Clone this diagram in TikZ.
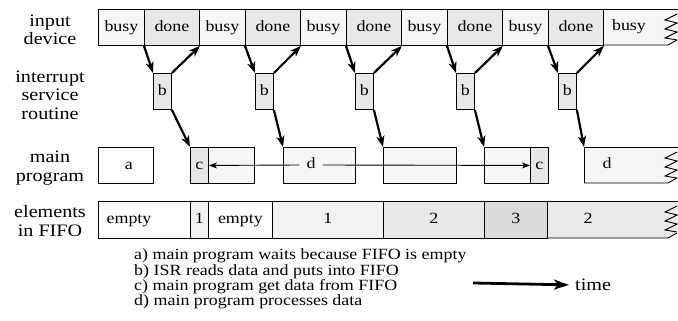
\documentclass[tikz,border=0pt]{standalone}
\usepackage{fontspec}
\setmainfont{Liberation Serif}[FakeStretch=1.15]
\usetikzlibrary{arrows.meta}
\definecolor{busyc}{RGB}{246,246,246}
\definecolor{donec}{RGB}{232,232,232}
\definecolor{bboxc}{RGB}{232,232,232}
\definecolor{cboxc}{RGB}{230,230,230}
\definecolor{lightc}{RGB}{246,246,246}
\definecolor{fonec}{RGB}{242,242,242}
\definecolor{ftwoc}{RGB}{232,232,232}
\definecolor{fthreec}{RGB}{218,218,218}
\definecolor{flastc}{RGB}{234,234,234}
\newcommand\lblfont{\fontsize{17.5}{18.5}\selectfont}
\newcommand\cellfont{\fontsize{15.6}{16}\selectfont}
\newcommand\legfont{\fontsize{15.6}{14}\selectfont}
\newcommand\myzig[4]{%
  \fill[#4] (#1,#2) -- (677,#2) -- (677,{#3-5}) -- (668,#3) -- (#1,#3) -- cycle;
  \draw[line width=0.9pt] (#1,#3) -- (#1,#2) -- (678,#2);
  \draw[line width=0.9pt] (#1,#3) -- (668,#3) -- (677,{#3-5});
  \draw[line width=0.9pt] (677,{#2+5}) -- (665,{#2+11}) -- (677,{#2+14}) -- (665,{#2+20}) -- (677,{#2+23}) -- (665,{#2+29}) -- (677,{#2+31});
}
\tikzset{
  cell/.style={draw, line width=0.9pt, inner sep=0pt, anchor=north west,
    minimum height=36pt, font=\cellfont, text height=11pt, text depth=3.5pt},
  lbl/.style={align=center, font=\lblfont, inner sep=0pt},
  txt/.style={font=\cellfont, inner sep=0pt, text height=11pt, text depth=3.5pt},
  arr/.style={line width=2.2pt, -{Stealth[length=11pt,width=8pt,inset=3pt]}},
  thin/.style={line width=0.9pt, -{Stealth[length=8pt,width=6pt,inset=2pt]}},
}
\begin{document}
\begin{tikzpicture}[x=1pt,y=-1pt]
\useasboundingbox (0,0) rectangle (678,321);
% row labels
\node[lbl] (L1) at (50,30) {input\\device};
\node[lbl] (L2) at (50,95) {interrupt\\service\\routine};
\node[lbl] (L3) at (50,168) {main\\program};
\node[lbl] (L4) at (50,221) {elements\\in FIFO};
% input device row
\node[cell, fill=busyc, minimum width=46pt] (t1) at (98,9) {busy};
\node[cell, fill=donec, minimum width=55pt] (t2) at (144,9) {done};
\node[cell, fill=busyc, minimum width=46pt] (t3) at (199,9) {busy};
\node[cell, fill=donec, minimum width=55pt] (t4) at (245,9) {done};
\node[cell, fill=busyc, minimum width=46pt] (t5) at (300,9) {busy};
\node[cell, fill=donec, minimum width=55pt] (t6) at (346,9) {done};
\node[cell, fill=busyc, minimum width=46pt] (t7) at (401,9) {busy};
\node[cell, fill=donec, minimum width=55pt] (t8) at (447,9) {done};
\node[cell, fill=busyc, minimum width=46pt] (t9) at (502,9) {busy};
\node[cell, fill=donec, minimum width=55pt] (t10) at (548,9) {done};
\myzig{603}{9}{45}{busyc}
\node[txt] (t11) at (629,27) {busy};
% ISR boxes
\node[cell, fill=bboxc, minimum width=18pt] (b1) at (153,73) {b};
\node[cell, fill=bboxc, minimum width=18pt] (b2) at (255,73) {b};
\node[cell, fill=bboxc, minimum width=18pt] (b3) at (355,73) {b};
\node[cell, fill=bboxc, minimum width=18pt] (b4) at (456,73) {b};
\node[cell, fill=bboxc, minimum width=18pt] (b5) at (558,73) {b};
% main program row
\node[cell, fill=white, minimum width=55pt] (ma) at (98,147) {\hspace{6pt}a};
\node[cell, fill=cboxc, minimum width=18pt] (mc1) at (190,147) {c};
\node[cell, fill=lightc, minimum width=46pt] (ml1) at (208,147) {};
\node[cell, fill=lightc, minimum width=72pt] (md1) at (283,147) {};
\node[cell, fill=lightc, minimum width=73pt] (ml2) at (383,147) {};
\node[cell, fill=lightc, minimum width=46pt] (ml3) at (484,147) {};
\node[cell, fill=cboxc, minimum width=18pt] (mc2) at (530,147) {c};
\myzig{584}{147}{183}{lightc}
\coordinate (mlast) at (584,147);
\node[txt] (mdl) at (607,165) {d};
\node[txt, inner xsep=7pt] (dlab) at (311,165) {d};
\draw[thin] (dlab.west) -- (mc1.east);
\draw[thin] (dlab.east) -- (mc2.west);
% FIFO row
\node[cell, fill=white, minimum width=92pt, minimum height=37pt] (f1) at (98,201) {};
\node[txt] (f1t) at (129,219.5) {empty};
\node[cell, fill=fonec, minimum width=18pt, minimum height=37pt] (f2) at (190,201) {1};
\node[cell, fill=white, minimum width=64pt, minimum height=37pt] (f3) at (208,201) {empty};
\node[cell, fill=fonec, minimum width=111pt, minimum height=37pt] (f4) at (272,201) {1};
\node[cell, fill=ftwoc, minimum width=101pt, minimum height=37pt] (f5) at (383,201) {2\hspace{12pt}};
\node[cell, fill=fthreec, minimum width=63pt, minimum height=37pt] (f6) at (484,201) {3};
\myzig{547}{201}{238}{flastc}
\node[txt] (f7) at (588,219.5) {2};
% connectors input device <-> ISR -> main program
\draw[arr] (t2.south west) -- (b1.north west);
\draw[arr] (b1.north east) -- (t2.south east);
\draw[arr] (b1.south east) -- (mc1.north west);
\draw[arr] (t4.south west) -- (b2.north west);
\draw[arr] (b2.north east) -- (t4.south east);
\draw[arr] (b2.south east) -- (md1.north west);
\draw[arr] (t6.south west) -- (b3.north west);
\draw[arr] (b3.north east) -- (t6.south east);
\draw[arr] (b3.south east) -- (ml2.north west);
\draw[arr] (t8.south west) -- (b4.north west);
\draw[arr] (b4.north east) -- (t8.south east);
\draw[arr] (b4.south east) -- (ml3.north west);
\draw[arr] (t10.south west) -- (b5.north west);
\draw[arr] (b5.north east) -- (t10.south east);
\draw[arr] (b5.south east) -- (mlast);
% legend
\node[align=left, anchor=west, font=\legfont, inner sep=0pt] (leg) at (134,279)
  {a) main program waits because FIFO is empty\\
   b) ISR reads data and puts into FIFO\\
   c) main program get data from FIFO\\
   d) main program processes data};
\coordinate (ts) at (473,283);
\node[font=\lblfont, anchor=west, inner sep=0pt] (time) at (575,285) {time};
\draw[line width=2.8pt, -{Stealth[length=15pt,width=10pt,inset=4pt]}, shorten >=6pt] (ts) -- (time.west);
\end{tikzpicture}
\end{document}
